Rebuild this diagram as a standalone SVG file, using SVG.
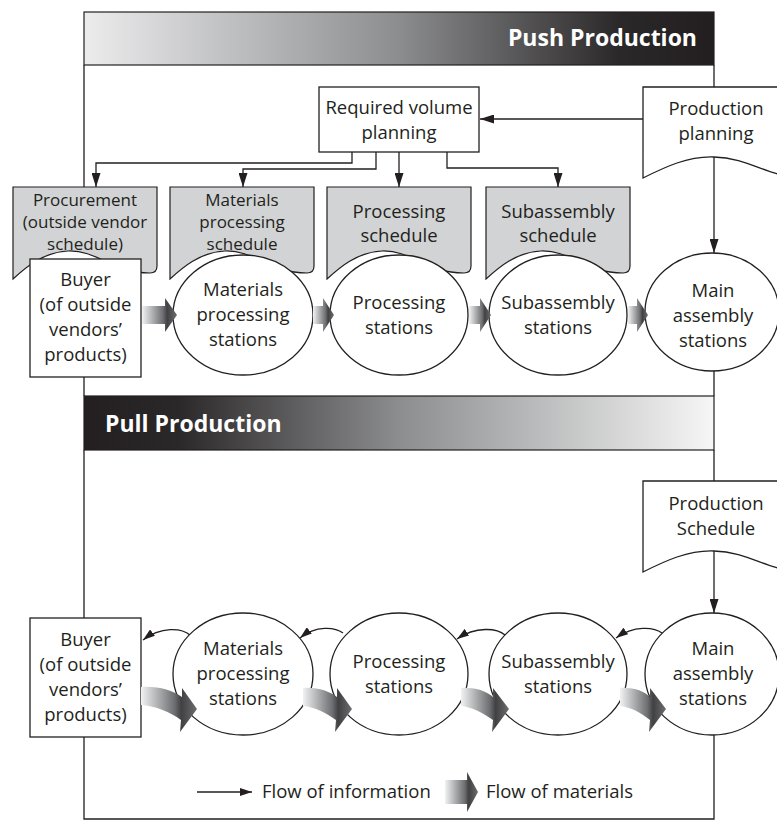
<svg xmlns="http://www.w3.org/2000/svg" width="777" height="827" viewBox="0 0 777 827">
  <defs>
    <linearGradient id="gPush" x1="0" y1="0" x2="1" y2="0">
      <stop offset="0" stop-color="#ececed"/>
      <stop offset="0.5" stop-color="#8c8d8f"/>
      <stop offset="0.85" stop-color="#2b2829"/>
      <stop offset="1" stop-color="#231f20"/>
    </linearGradient>
    <linearGradient id="gPull" x1="0" y1="0" x2="1" y2="0">
      <stop offset="0" stop-color="#231f20"/>
      <stop offset="0.15" stop-color="#2b2829"/>
      <stop offset="0.5" stop-color="#8c8d8f"/>
      <stop offset="1" stop-color="#f6f6f6"/>
    </linearGradient>
    <linearGradient id="gMat" x1="0" y1="0" x2="1" y2="0">
      <stop offset="0" stop-color="#f1f2f2"/>
      <stop offset="0.6" stop-color="#6d6e71"/>
      <stop offset="0.72" stop-color="#414042"/>
      <stop offset="1" stop-color="#6d6e71"/>
    </linearGradient>
    <marker id="ah" viewBox="0 0 14 9" refX="14" refY="4.5" markerWidth="14" markerHeight="9" markerUnits="userSpaceOnUse" orient="auto">
      <path d="M0,0 L14,4.5 L0,9 Z" fill="#231f20"/>
    </marker>
    <marker id="ahs" viewBox="0 0 12 8" refX="12" refY="4" markerWidth="12" markerHeight="8" markerUnits="userSpaceOnUse" orient="auto">
      <path d="M0,0 L12,4 L0,8 Z" fill="#231f20"/>
    </marker>
    <!-- document symbol with wavy bottom edge, top-left at origin -->
    <path id="docShape" d="M0,0 H150 V89 C125,89 105,71 71,70 C45,69 22,80 0,91 Z"/>
  </defs>
  <style>
    .ln{fill:none;stroke:#231f20;stroke-width:1.3}
    .box{fill:#fff;stroke:#231f20;stroke-width:1.3}
    .doc{fill:#fff;stroke:#231f20;stroke-width:1.3}
    .sched{fill:#d1d3d4;stroke:#231f20;stroke-width:1.2}
    .mat{fill:url(#gMat);stroke:none}
    .t{font-family:"Open Sans","Noto Sans",sans-serif;font-size:18.5px;fill:#231f20;text-anchor:middle}
    .ts{font-family:"Open Sans","Noto Sans",sans-serif;font-size:17px;fill:#231f20;text-anchor:middle}
    .lg{font-family:"Open Sans","Noto Sans",sans-serif;font-size:18.5px;fill:#231f20}
    .hd{font-family:"Open Sans","Noto Sans",sans-serif;font-size:23px;font-weight:700;fill:#fff}
  </style>

  <rect width="777" height="827" fill="#fff"/>

  <!-- section frames -->
  <g id="frame-push">
    <rect x="84" y="12" width="630" height="53" fill="url(#gPush)" stroke="#231f20" stroke-width="1.2"/>
    <text class="hd" x="697" y="46" text-anchor="end">Push Production</text>
    <path class="ln" d="M84,65 V187 M84,377 V396 M714,65 V87 M714,371 V396"/>
  </g>
  <g id="frame-pull">
    <rect x="84" y="396" width="630" height="54" fill="url(#gPull)" stroke="#231f20" stroke-width="1.2"/>
    <text class="hd" x="105" y="432">Pull Production</text>
    <path class="ln" d="M84,450 V618 M84,737 V819 H714 V735 M714,450 V481"/>
  </g>

  <!-- schedules -->
  <g id="sched-procurement">
    <path class="sched" d="M13,187 H157 V266 Q157,273 150,273 C112,273 98,250 68,251 C43,252 25,268 13,279 Z"/>
    <text class="ts" x="85" y="206">Procurement</text>
    <text class="ts" x="85" y="228">(outside vendor</text>
    <text class="ts" x="85" y="250">schedule)</text>
  </g>
  <g id="sched-materials">
    <path class="sched" d="M170,187 H314 V266 Q314,273 307,273 C269,273 255,250 225,251 C200,252 182,268 170,279 Z"/>
    <text class="ts" x="242" y="206">Materials</text>
    <text class="ts" x="242" y="228">processing</text>
    <text class="ts" x="242" y="250">schedule</text>
  </g>
  <g id="sched-processing">
    <path class="sched" d="M327,187 H471 V266 Q471,273 464,273 C426,273 412,250 382,251 C357,252 339,268 327,279 Z"/>
    <text class="t" x="399" y="218">Processing</text>
    <text class="t" x="399" y="242">schedule</text>
  </g>
  <g id="sched-subassembly">
    <path class="sched" d="M486,187 H630 V266 Q630,273 623,273 C585,273 571,250 541,251 C516,252 498,268 486,279 Z"/>
    <text class="t" x="558" y="218">Subassembly</text>
    <text class="t" x="558" y="242">schedule</text>
  </g>

  <!-- information flow connectors -->
  <g id="connectors">
    <path class="ln" marker-end="url(#ah)" d="M643,119 H480"/>
    <path class="ln" marker-end="url(#ah)" d="M714,157 V253"/>
    <path class="ln" marker-end="url(#ah)" d="M352,152 V163 H96 V187"/>
    <path class="ln" marker-end="url(#ah)" d="M376,152 V169 H243 V187"/>
    <path class="ln" marker-end="url(#ah)" d="M399,152 V187"/>
    <path class="ln" marker-end="url(#ah)" d="M447,152 V168 H558 V187"/>
    <path class="ln" marker-end="url(#ah)" d="M714,551 V613"/>
    <path class="ln" marker-end="url(#ahs)" d="M190,635 C182,628 161,626 143,640"/>
    <path class="ln" marker-end="url(#ahs)" d="M343,633 C335,627 316,625 300,638"/>
    <path class="ln" marker-end="url(#ahs)" d="M505,635 C497,628 476,626 457,639"/>
    <path class="ln" marker-end="url(#ahs)" d="M662,633 C654,627 634,625 616,638"/>
  </g>

  <!-- push production nodes -->
  <g id="required-volume">
    <rect class="box" x="319" y="87" width="160" height="65"/>
    <text class="t" x="399" y="114">Required volume</text>
    <text class="t" x="399" y="139">planning</text>
  </g>
  <g id="production-planning">
    <use href="#docShape" class="doc" x="643" y="87"/>
    <text class="t" x="716" y="115">Production</text>
    <text class="t" x="716" y="140">planning</text>
  </g>
  <g id="push-buyer">
    <rect class="box" x="30" y="259" width="111" height="118"/>
    <text class="t" x="85.5" y="286">Buyer</text>
    <text class="t" x="85.5" y="311">(of outside</text>
    <text class="t" x="85.5" y="336">vendors’</text>
    <text class="t" x="85.5" y="361">products)</text>
  </g>
  <g id="push-materials">
    <ellipse class="box" cx="243" cy="315" rx="70" ry="60"/>
    <text class="t" x="243" y="296">Materials</text>
    <text class="t" x="243" y="321">processing</text>
    <text class="t" x="243" y="346">stations</text>
  </g>
  <g id="push-processing">
    <ellipse class="box" cx="399" cy="315" rx="69" ry="60"/>
    <text class="t" x="399" y="309">Processing</text>
    <text class="t" x="399" y="334">stations</text>
  </g>
  <g id="push-subassembly">
    <ellipse class="box" cx="558" cy="315" rx="69" ry="60"/>
    <text class="t" x="558" y="309">Subassembly</text>
    <text class="t" x="558" y="334">stations</text>
  </g>
  <g id="push-main">
    <ellipse class="box" cx="712" cy="312" rx="67" ry="59"/>
    <text class="t" x="713" y="297">Main</text>
    <text class="t" x="713" y="322">assembly</text>
    <text class="t" x="713" y="347">stations</text>
  </g>

  <!-- pull production nodes -->
  <g id="production-schedule">
    <use href="#docShape" class="doc" x="643" y="481"/>
    <text class="t" x="716" y="510">Production</text>
    <text class="t" x="716" y="535">Schedule</text>
  </g>
  <g id="pull-buyer">
    <rect class="box" x="30" y="618" width="111" height="119"/>
    <text class="t" x="85.5" y="646">Buyer</text>
    <text class="t" x="85.5" y="671">(of outside</text>
    <text class="t" x="85.5" y="696">vendors’</text>
    <text class="t" x="85.5" y="721">products)</text>
  </g>
  <g id="pull-materials">
    <ellipse class="box" cx="243" cy="674" rx="70" ry="61"/>
    <text class="t" x="243" y="655">Materials</text>
    <text class="t" x="243" y="680">processing</text>
    <text class="t" x="243" y="705">stations</text>
  </g>
  <g id="pull-processing">
    <ellipse class="box" cx="399" cy="674" rx="69" ry="61"/>
    <text class="t" x="399" y="668">Processing</text>
    <text class="t" x="399" y="693">stations</text>
  </g>
  <g id="pull-subassembly">
    <ellipse class="box" cx="558" cy="674" rx="69" ry="61"/>
    <text class="t" x="558" y="668">Subassembly</text>
    <text class="t" x="558" y="693">stations</text>
  </g>
  <g id="pull-main">
    <ellipse class="box" cx="712" cy="674" rx="67" ry="61"/>
    <text class="t" x="713" y="655">Main</text>
    <text class="t" x="713" y="680">assembly</text>
    <text class="t" x="713" y="705">stations</text>
  </g>

  <!-- material flow arrows -->
  <g id="material-flow">
    <path class="mat" d="M142,306 H165 V298 L177,315 L165,332 V324 H142 Z"/>
    <path class="mat" d="M313,306 H323 V298 L334,315 L323,332 V324 H313 Z"/>
    <path class="mat" d="M469,306 H480 V298 L491,315 L480,332 V324 H469 Z"/>
    <path class="mat" d="M628,306 H637 V298 L648,315 L637,332 V324 H628 Z"/>
    <path class="mat" d="M141,687 C158,686 172,690 182,697 L182,688 L197,709 L180,732 L181,720 C170,712 156,706 141,705 Z"/>
    <path class="mat" d="M303,688 C317,687 329,691 337,697 L337,688 L352,709 L335,732 L336,720 C326,713 315,707 303,706 Z"/>
    <path class="mat" d="M461,688 C475,687 486,691 493,697 L493,688 L509,709 L492,732 L493,720 C483,713 472,707 461,706 Z"/>
    <path class="mat" d="M620,688 C633,687 644,691 650,697 L650,688 L666,709 L649,732 L650,720 C641,713 631,707 620,706 Z"/>
  </g>

  <!-- legend -->
  <g id="legend">
    <path class="ln" marker-end="url(#ahs)" d="M197,792 H252"/>
    <text class="lg" x="262" y="798">Flow of information</text>
    <path class="mat" d="M445,780 H467 V772 L478,792 L467,812 V804 H445 Z"/>
    <text class="lg" x="486" y="798">Flow of materials</text>
  </g>
</svg>
